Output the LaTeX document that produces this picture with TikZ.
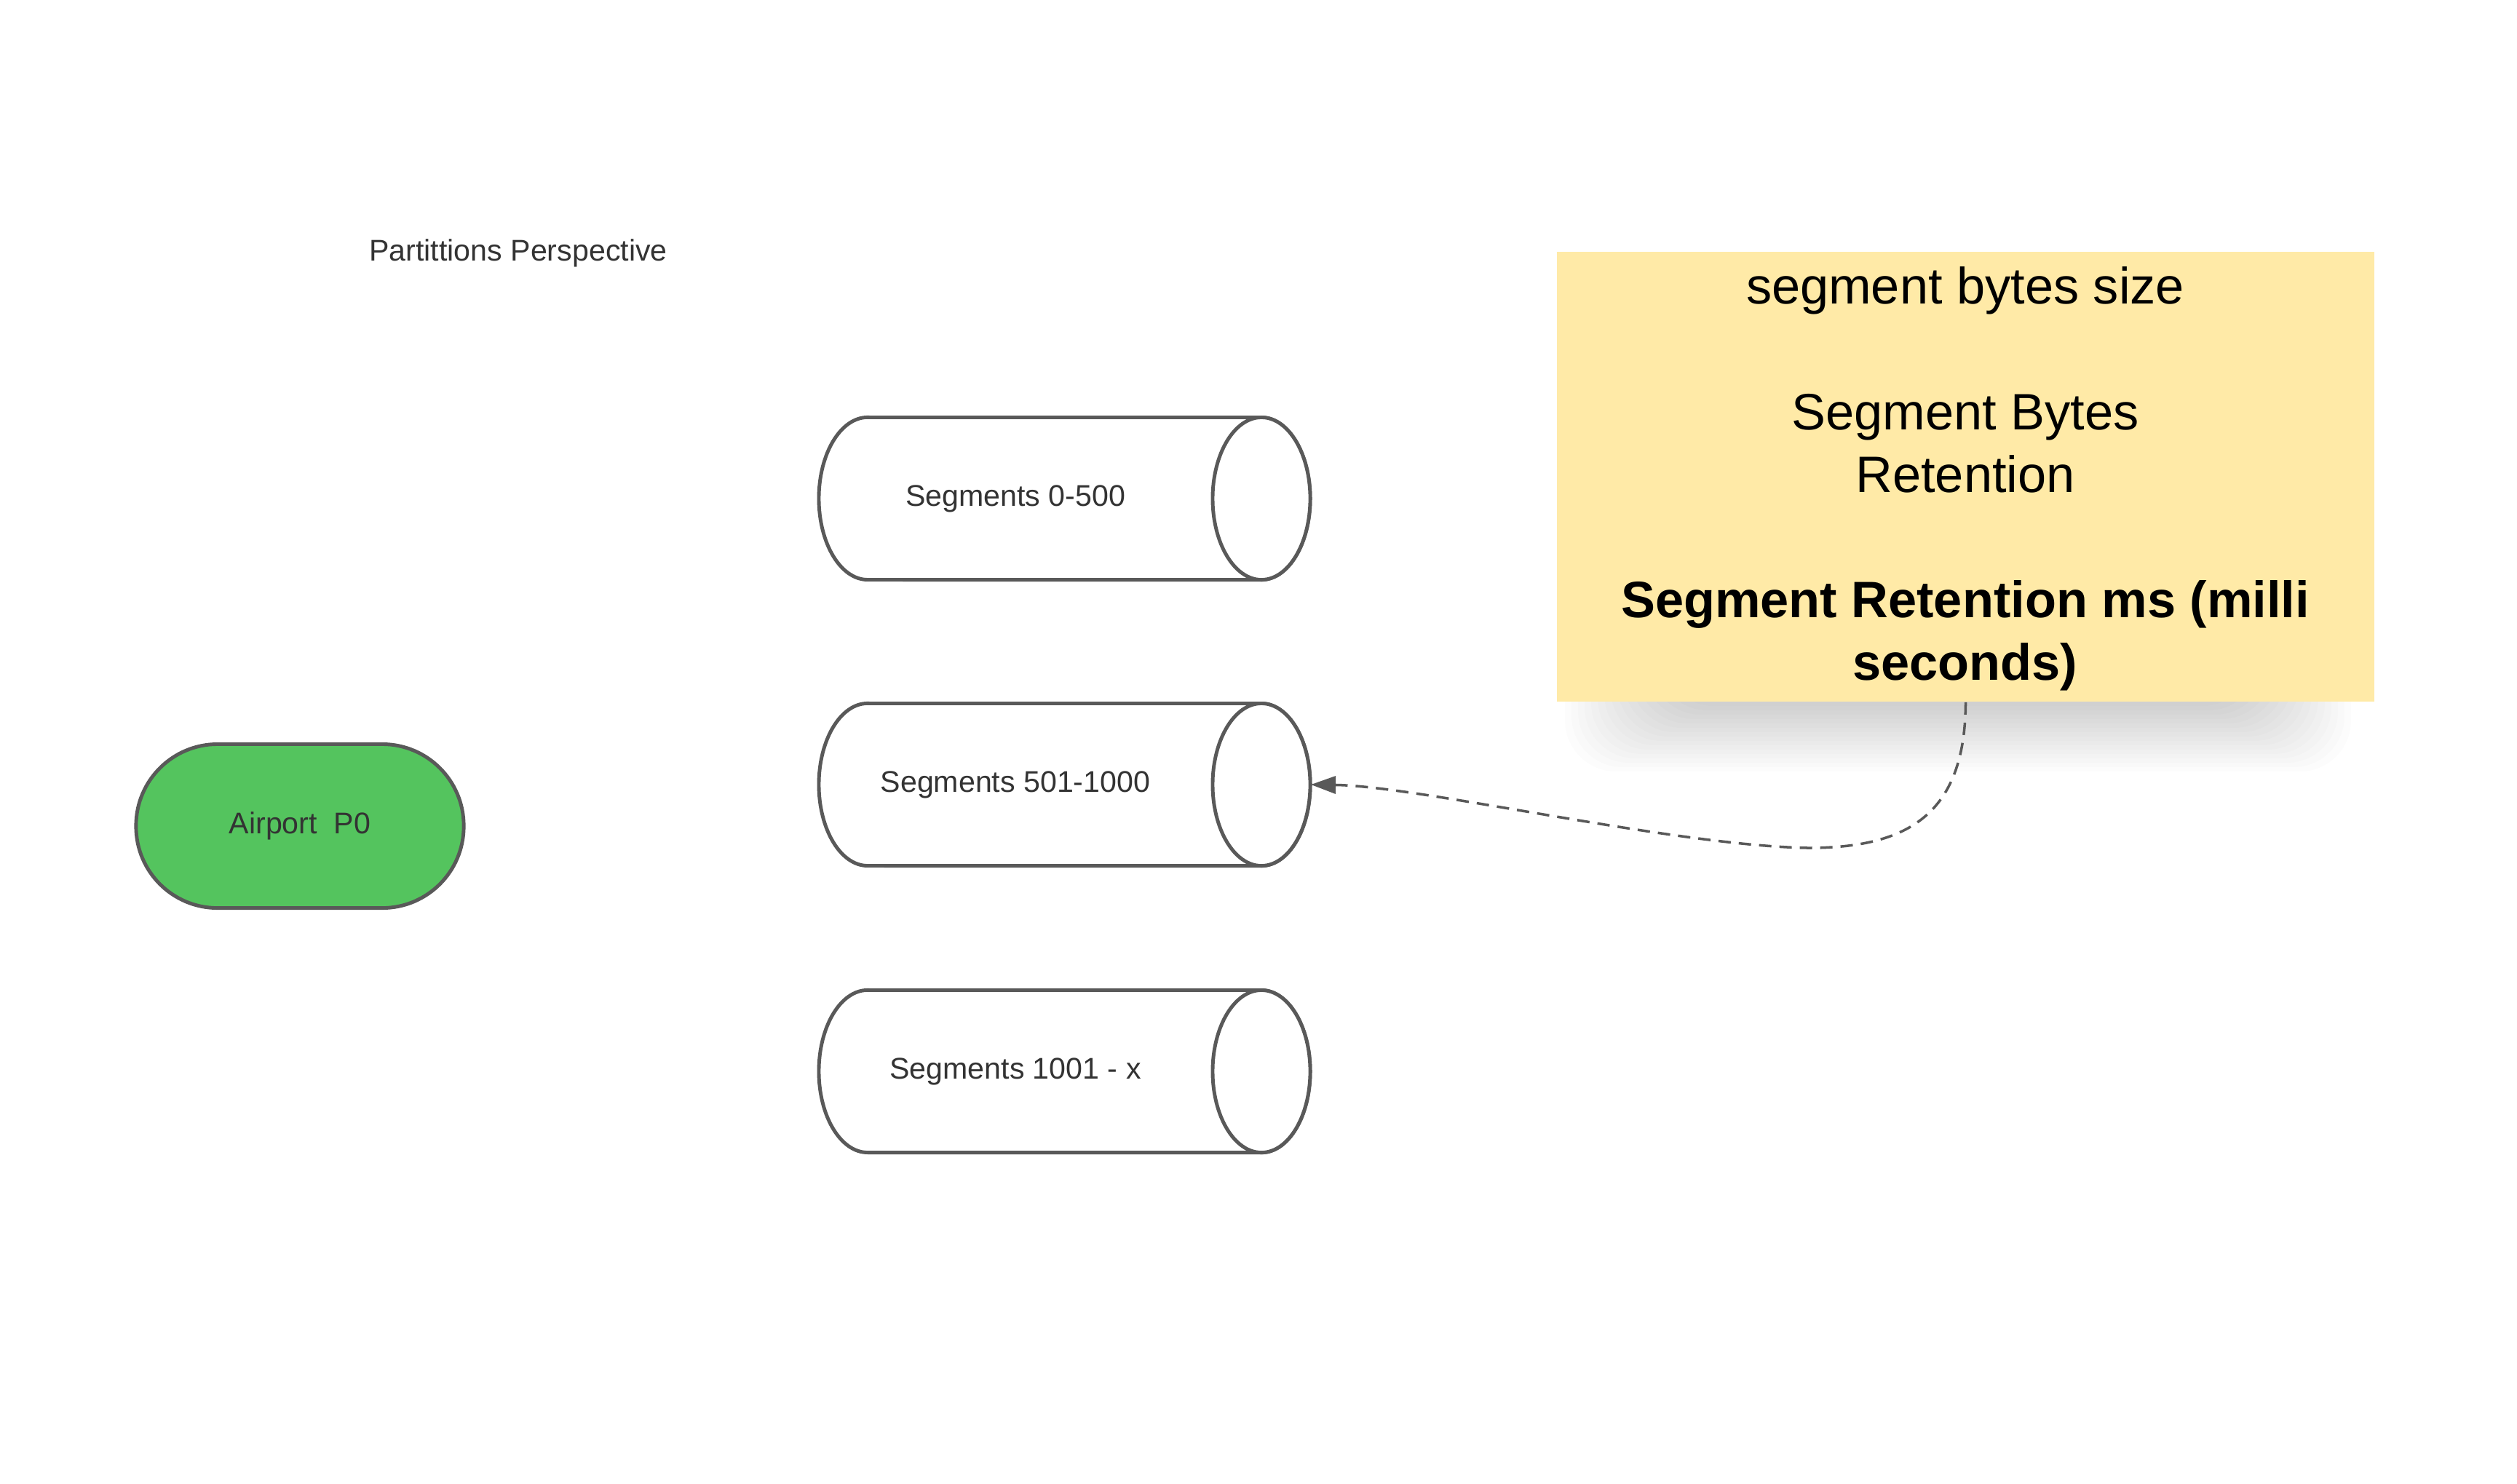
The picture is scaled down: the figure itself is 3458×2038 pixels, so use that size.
\documentclass[tikz,border=0pt]{standalone}
\usepackage{fontspec}
\setmainfont{Liberation Sans}
\usetikzlibrary{arrows.meta}
\definecolor{edgegray}{HTML}{595959}
\definecolor{txtgray}{HTML}{333333}
\definecolor{airgreen}{HTML}{54C45E}
\definecolor{notey}{HTML}{FFEAA7}
\begin{document}
\begin{tikzpicture}[x=0.01cm,y=-0.01cm,
  small/.style={font=\fontsize{11.7}{14}\selectfont, text=txtgray},
  cylline/.style={draw=edgegray, line width=1.4pt, fill=white},
  big/.style={font=\fontsize{20}{24.5}\selectfont, text=black, align=center},
  conn/.style={draw=edgegray, line width=1pt, dash pattern=on 0.17cm off 0.11cm,
    -{Triangle[length=0.34cm,width=0.24cm]}}]
\useasboundingbox (0,0) rectangle (3458,2038);

% title
\node[small] (title) at (712,348) {Partittions Perspective};

% airport
\node[draw=edgegray, line width=1.4pt, fill=airgreen, minimum width=4.5cm,
  minimum height=2.25cm, rounded corners=1.12cm, small] (airport) at (412,1135) {Airport\ \ P0};

% cylinders
\foreach \cy/\nm/\lab in {685/a/{Segments 0-500}, 1078/b/{Segments 501-1000}, 1472/c/{Segments 1001 - x}}{
  \draw[cylline] (1192,\cy-111.5) -- (1733,\cy-111.5)
     arc[start angle=90, end angle=-90, x radius=0.67cm, y radius=1.115cm]
     -- (1192,\cy+111.5)
     arc[start angle=270, end angle=90, x radius=0.67cm, y radius=1.115cm] -- cycle;
  \draw[cylline] (1733,\cy) ellipse [x radius=0.67cm, y radius=1.115cm];
  \node[small] (seg\nm) at (1395,\cy) {\lab};
  \coordinate (seg\nm e) at (1801,\cy);
}

% note shadow (soft blur built from translucent layers)
\foreach \k in {0,...,19}{
  \fill[black, opacity=0.012, rounded corners=0.7cm]
    (2150+\k*9, 880) rectangle (3230-\k*9, 1060-\k*6);
}
% note
\node[fill=notey, minimum width=11.23cm, minimum height=6.18cm, inner sep=0] (note) at (2700.5,655) {};
\node[big] (notetext) at (2700,658) {segment bytes size\\[24.5pt]Segment Bytes\\Retention\\[24.5pt]\textbf{Segment Retention ms (milli}\\\textbf{seconds)}};

% connector
\coordinate (bend) at (2484,1165);
\draw[conn] (note.south) .. controls (2700,1120) and (2620,1165) .. (bend)
  .. controls (2300,1162) and (1950,1080) .. (segbe);
\end{tikzpicture}
\end{document}
